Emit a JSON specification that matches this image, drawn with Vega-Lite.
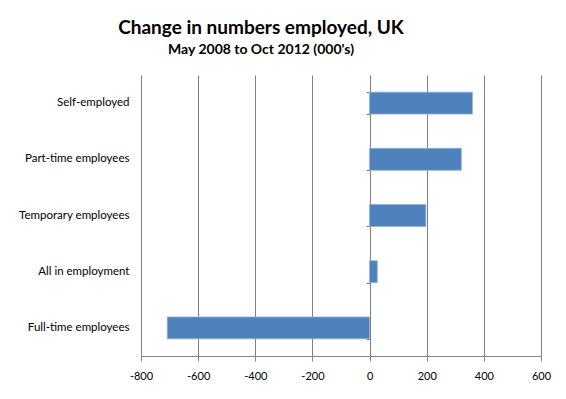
{
  "$schema": "https://vega.github.io/schema/vega-lite/v6.json",
  "width": 400,
  "height": 281,
  "autosize": "none",
  "padding": {"left": 141, "top": 75, "right": 25, "bottom": 43},
  "background": "white",
  "title": {
    "text": "Change in numbers employed, UK",
    "subtitle": "May 2008 to Oct 2012 (000's)",
    "font": "Lato",
    "fontSize": 19,
    "fontWeight": "bold",
    "color": "black",
    "subtitleFont": "Lato",
    "subtitleFontSize": 14,
    "subtitleFontWeight": "bold",
    "subtitleColor": "black",
    "subtitlePadding": 5,
    "anchor": "middle",
    "dx": -80,
    "offset": 18
  },
  "data": {
    "values": [
      {"category": "Self-employed", "change": 360},
      {"category": "Part-time employees", "change": 321},
      {"category": "Temporary employees", "change": 197},
      {"category": "All in employment", "change": 27},
      {"category": "Full-time employees", "change": -708}
    ]
  },
  "resolve": {"axis": {"y": "independent"}},
  "layer": [
    {
      "mark": {"type": "bar", "color": "#4F81BD", "stroke": "#8DB0DA", "strokeWidth": 0.8},
      "encoding": {
        "y": {
          "field": "category",
          "type": "nominal",
          "sort": ["Self-employed", "Part-time employees", "Temporary employees", "All in employment", "Full-time employees"],
          "scale": {"paddingInner": 0.61, "paddingOuter": 0.305},
          "axis": {
            "title": null,
            "domain": false,
            "ticks": false,
            "labelPadding": 12,
            "labelFont": "Lato",
            "labelFontSize": 11.5,
            "labelColor": "black"
          }
        },
        "x": {
          "field": "change",
          "type": "quantitative",
          "scale": {"domain": [-800, 600], "nice": false},
          "axis": {
            "title": null,
            "values": [-800, -600, -400, -200, 0, 200, 400, 600],
            "labelExpr": "'' + datum.value",
            "grid": true,
            "gridColor": "#7f7f7f",
            "gridOpacity": 1,
            "domainColor": "#868686",
            "tickColor": "#868686",
            "tickSize": 5,
            "labelPadding": 9,
            "labelFont": "Lato",
            "labelFontSize": 11,
            "labelColor": "black",
            "labelFlush": false
          }
        }
      }
    },
    {
      "mark": {"type": "bar", "opacity": 0},
      "encoding": {
        "y": {
          "field": "category",
          "type": "nominal",
          "sort": ["Self-employed", "Part-time employees", "Temporary employees", "All in employment", "Full-time employees"],
          "axis": {
            "orient": "left",
            "offset": -229,
            "title": null,
            "labels": false,
            "domain": true,
            "domainColor": "#7f7f7f",
            "ticks": true,
            "tickBand": "extent",
            "tickSize": 4,
            "tickColor": "#7f7f7f"
          }
        },
        "x": {"field": "change", "type": "quantitative"}
      }
    }
  ],
  "config": {"view": {"stroke": null}}
}
